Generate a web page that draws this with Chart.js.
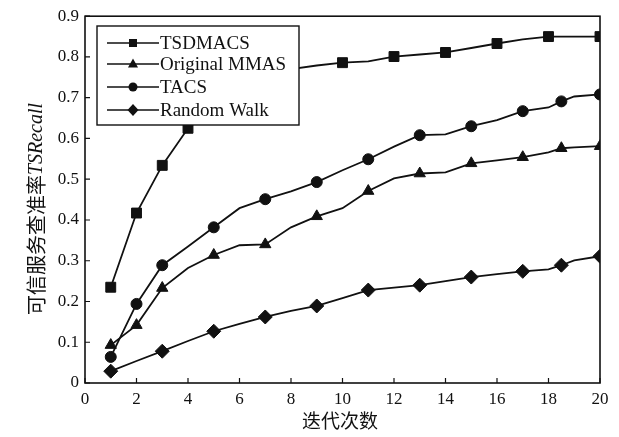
<!DOCTYPE html>
<html>
<head>
<meta charset="utf-8">
<script src="https://cdn.jsdelivr.net/npm/chart.js@4"></script>
<style>
  html, body { margin: 0; padding: 0; background: #fff; }
  #wrap { width: 619px; height: 437px; }
</style>
</head>
<body>
<div id="wrap"><canvas id="chart"></canvas></div>
<script>
// iteration positions (the lines have a vertex at each, markers only at some)
const iterations = [1, 2, 3, 4, 5, 6, 7, 8, 9, 10, 11, 12, 13, 14, 15, 16, 17, 18, 18.5, 19, 20];

const tsdmacs  = [0.235, 0.417, 0.534, 0.625, 0.675, 0.715, 0.745, 0.770, 0.779, 0.786, 0.789, 0.801, 0.806, 0.811, 0.822, 0.833, 0.843, 0.850, 0.850, 0.850, 0.850];
const mmas     = [0.093, 0.142, 0.233, 0.282, 0.314, 0.338, 0.340, 0.382, 0.409, 0.429, 0.471, 0.502, 0.514, 0.517, 0.539, 0.546, 0.554, 0.566, 0.576, 0.578, 0.581];
const tacs     = [0.064, 0.194, 0.289, 0.335, 0.382, 0.429, 0.451, 0.470, 0.493, 0.522, 0.549, 0.580, 0.608, 0.610, 0.630, 0.645, 0.667, 0.676, 0.691, 0.703, 0.708];
const randWalk = [0.029, 0.054, 0.078, 0.103, 0.127, 0.145, 0.162, 0.177, 0.189, 0.208, 0.228, 0.234, 0.240, 0.250, 0.260, 0.267, 0.274, 0.279, 0.289, 0.301, 0.311];

// where each series carries a marker
const tsdmacsMarks  = [1, 2, 3, 4, 10, 12, 14, 16, 18, 20];
const mmasMarks     = [1, 2, 3, 5, 7, 9, 11, 13, 15, 17, 18.5, 20];
const tacsMarks     = [1, 2, 3, 5, 7, 9, 11, 13, 15, 17, 18.5, 20];
const randWalkMarks = [1, 3, 5, 7, 9, 11, 13, 15, 17, 18.5, 20];

const seriesNames = ["TSDMACS", "Original MMAS", "TACS", "Random Walk"];
const xTicks = [0, 2, 4, 6, 8, 10, 12, 14, 16, 18, 20];
const yTicks = [0, 0.1, 0.2, 0.3, 0.4, 0.5, 0.6, 0.7, 0.8, 0.9];

const xTitle = "迭代次数";
const yTitleCn = "可信服务查准率";
const yTitleEn = "TSRecall";

const INK = "#111";
const serif = "'Liberation Serif', 'Times New Roman', serif";
const cjk = "'Noto Sans CJK SC', sans-serif";

const makeSet = (label, values, marks, style, radius) => ({
    label: label,
    data: iterations.map((x, i) => ({ x: x, y: values[i] })),
    borderColor: INK,
    backgroundColor: INK,
    borderWidth: 1.8,
    tension: 0,
    pointStyle: style,
    pointRadius: iterations.map((x) => (marks.includes(x) ? radius : 0)),
    pointBorderWidth: 1,
    pointBorderColor: INK,
    pointBackgroundColor: INK,
});

const datasets = [
    makeSet(seriesNames[0], tsdmacs, tsdmacsMarks, "rect", 7),
    makeSet(seriesNames[1], mmas, mmasMarks, "triangle", 6.5),
    makeSet(seriesNames[2], tacs, tacsMarks, "circle", 5.5),
    makeSet(seriesNames[3], randWalk, randWalkMarks, "rectRot", 7),
];

function drawMarker(ctx, style, x, y) {
    ctx.beginPath();
    if (style === "rect") {
        ctx.rect(x - 4, y - 4, 8, 8);
    } else if (style === "triangle") {
        ctx.moveTo(x, y - 5.5);
        ctx.lineTo(x + 5, y + 3.5);
        ctx.lineTo(x - 5, y + 3.5);
        ctx.closePath();
    } else if (style === "circle") {
        ctx.arc(x, y, 4.5, 0, Math.PI * 2);
    } else {
        ctx.moveTo(x, y - 6);
        ctx.lineTo(x + 5.5, y);
        ctx.lineTo(x, y + 6);
        ctx.lineTo(x - 5.5, y);
        ctx.closePath();
    }
    ctx.fill();
}

const frame = {
    id: "frame",
    afterDatasetsDraw(chart) {
        const { ctx, chartArea: a, scales } = chart;
        ctx.save();
        ctx.strokeStyle = INK;
        ctx.lineWidth = 1.6;
        ctx.strokeRect(a.left, a.top, a.right - a.left, a.bottom - a.top);

        // inward ticks
        ctx.lineWidth = 1.2;
        ctx.beginPath();
        xTicks.forEach((v) => {
            const px = scales.x.getPixelForValue(v);
            ctx.moveTo(px, a.bottom);
            ctx.lineTo(px, a.bottom - 5);
        });
        yTicks.forEach((v) => {
            const py = scales.y.getPixelForValue(v);
            ctx.moveTo(a.left, py);
            ctx.lineTo(a.left + 5, py);
        });
        ctx.stroke();

        // legend box
        const lx = 97, ly = 26, lw = 202, lh = 99;
        ctx.fillStyle = "#fff";
        ctx.fillRect(lx, ly, lw, lh);
        ctx.lineWidth = 1.4;
        ctx.strokeRect(lx, ly, lw, lh);
        const rows = [43, 64, 87, 110];
        ctx.font = "19px " + serif;
        ctx.textBaseline = "middle";
        datasets.forEach((ds, i) => {
            const y = rows[i];
            ctx.strokeStyle = INK;
            ctx.lineWidth = 1.5;
            ctx.beginPath();
            ctx.moveTo(107, y);
            ctx.lineTo(159, y);
            ctx.stroke();
            ctx.fillStyle = INK;
            drawMarker(ctx, ds.pointStyle, 133, y);
            ctx.fillText(ds.label, 160, y + 1);
        });

        // axis titles
        ctx.fillStyle = INK;
        ctx.textAlign = "center";
        ctx.textBaseline = "middle";
        ctx.font = "19px " + cjk;
        ctx.fillText(xTitle, 340, 421);

        ctx.save();
        ctx.translate(36, 209);
        ctx.rotate(-Math.PI / 2);
        ctx.font = "20px " + cjk;
        const w1 = ctx.measureText(yTitleCn).width;
        ctx.font = "italic 20px " + serif;
        const w2 = ctx.measureText(yTitleEn).width;
        let sx = -(w1 + w2) / 2;
        ctx.textAlign = "left";
        ctx.font = "20px " + cjk;
        ctx.fillText(yTitleCn, sx, 0);
        ctx.font = "italic 20px " + serif;
        ctx.fillText(yTitleEn, sx + w1, 1);
        ctx.restore();
        ctx.restore();
    },
};

new Chart(document.getElementById("chart"), {
    type: "line",
    data: { datasets: datasets },
    options: {
        responsive: true,
        maintainAspectRatio: false,
        animation: false,
        layout: { padding: { left: 0, right: 19, top: 16, bottom: 0 } },
        plugins: {
            legend: { display: false },
            tooltip: { enabled: false },
        },
        scales: {
            x: {
                type: "linear",
                min: 0,
                max: 20,
                afterBuildTicks: (s) => { s.ticks = xTicks.map((v) => ({ value: v })); },
                afterFit: (s) => { s.height = 54; },
                grid: { display: false, drawTicks: false },
                border: { display: false },
                ticks: {
                    color: INK,
                    padding: 6,
                    maxRotation: 0,
                    autoSkip: false,
                    font: { family: serif, size: 17 },
                    callback: (v) => String(v),
                },
            },
            y: {
                min: 0,
                max: 0.9,
                afterBuildTicks: (s) => { s.ticks = yTicks.map((v) => ({ value: v })); },
                afterFit: (s) => { s.width = 85; },
                grid: { display: false, drawTicks: false },
                border: { display: false },
                ticks: {
                    color: INK,
                    padding: 6,
                    autoSkip: false,
                    font: { family: serif, size: 17 },
                    callback: (v) => (v === 0 ? "0" : v.toFixed(1)),
                },
            },
        },
    },
    plugins: [frame],
});
</script>
</body>
</html>
